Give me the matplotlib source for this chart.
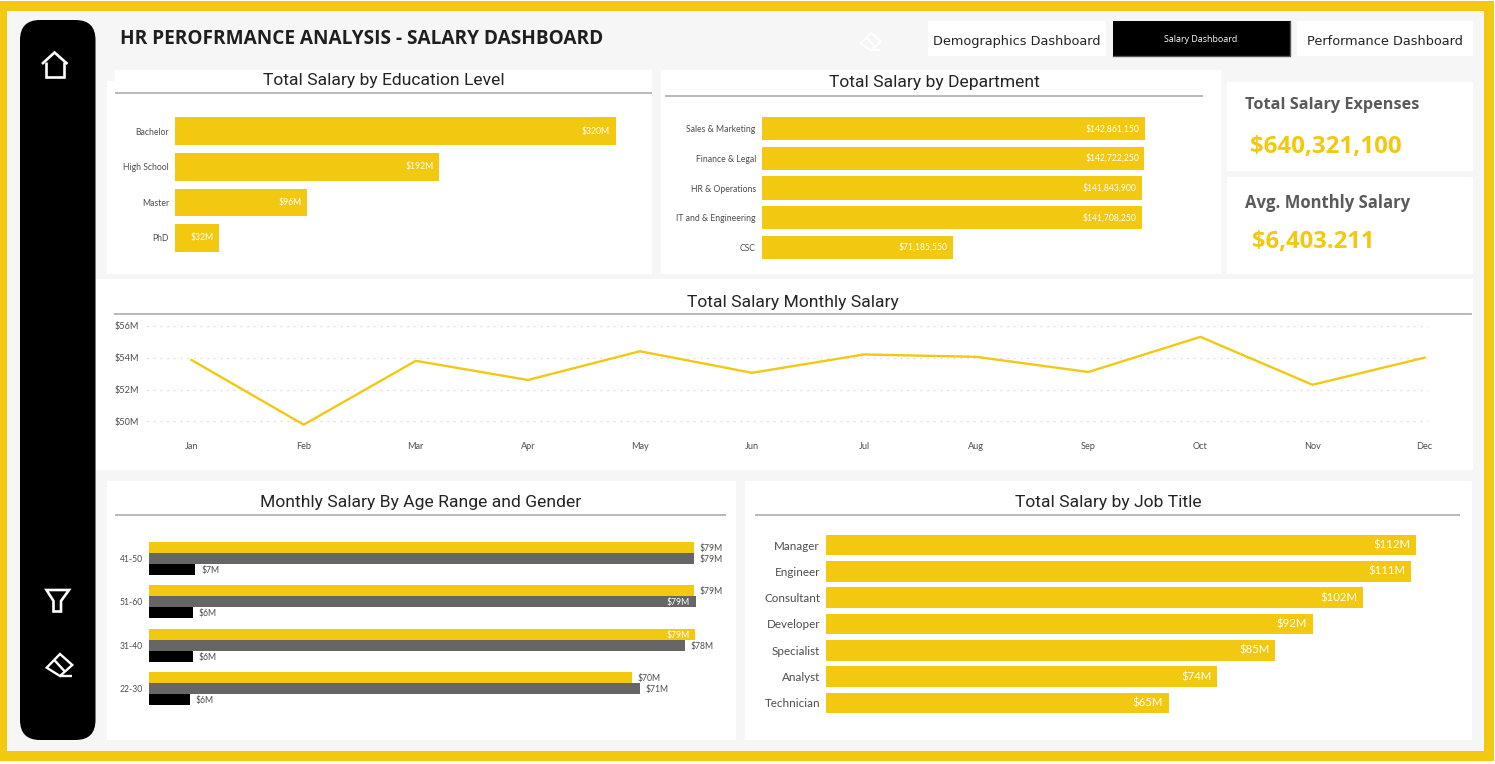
import matplotlib
matplotlib.use("Agg")
import matplotlib.pyplot as plt
from matplotlib.patches import Rectangle, FancyBboxPatch, Polygon

W, H = 1495, 764
YELLOW = "#F2C811"
GREY = "#666666"
TXT = "#4F4D4B"
BODY = "Open Sans"
LABEL = "Lato"
HEAD = "Roboto"
SMALL = 6.25

# ---- data ----
edu_levels = ["Bachelor", "High School", "Master", "PhD"]
edu_salary = [320, 192, 96, 32]

departments = ["Sales & Marketing", "Finance & Legal", "HR & Operations", "IT and & Engineering", "CSC"]
dept_salary = [142861150, 142722250, 141843900, 141708250, 71185550]

months = ["Jan", "Feb", "Mar", "Apr", "May", "Jun", "Jul", "Aug", "Sep", "Oct", "Nov", "Dec"]
month_salary = [53.85, 49.8, 53.8, 52.6, 54.4, 53.05, 54.2, 54.05, 53.1, 55.3, 52.3, 54.0]
month_ticks = [50, 52, 54, 56]

age_ranges = ["41-50", "51-60", "31-40", "22-30"]
age_series_a = [79.0, 79.0, 79.2, 70.1]
age_series_b = [79.0, 79.3, 77.7, 71.2]
age_series_c = [6.7, 6.3, 6.4, 5.9]

job_titles = ["Manager", "Engineer", "Consultant", "Developer", "Specialist", "Analyst", "Technician"]
job_salary = [112.0, 111.1, 102.0, 92.4, 85.2, 74.3, 65.0]

main_title = "HR PEROFRMANCE ANALYSIS - SALARY DASHBOARD"
total_expenses = "$640,321,100"
avg_monthly = "$6,403.211"

fig = plt.figure(figsize=(W / 100, H / 100), dpi=100, facecolor="white")
bg = fig.add_axes([0, 0, 1, 1], zorder=0)
bg.set_xlim(0, W)
bg.set_ylim(H, 0)
bg.axis("off")


def box(l, t, r, b, color="white", **kw):
    bg.add_patch(Rectangle((l, t), r - l, b - t, facecolor=color, edgecolor="none", **kw))


def hline(l, r, y):
    bg.plot([l, r], [y, y], color="#A6A6A6", lw=1.1, solid_capstyle="butt")


def title(x, y, s):
    bg.text(x, y + 1, s, family=HEAD, fontsize=12.6, color="#252423", ha="center", va="center")


def ax_px(l, t, r, b):
    ax = fig.add_axes([l / W, 1 - b / H, (r - l) / W, (b - t) / H], zorder=2)
    ax.patch.set_alpha(0)
    for s in ax.spines.values():
        s.set_visible(False)
    return ax


# frame and panels
box(0, 1, 1493.5, 761, YELLOW)
box(7, 11, 1484, 751, "#F6F6F6")
bg.add_patch(FancyBboxPatch((20, 20), 75.5, 720, boxstyle="round,pad=0,rounding_size=20",
                            facecolor="black", edgecolor="none", mutation_aspect=1))
box(107, 81, 652, 274)
box(115, 70, 652, 81)
box(661, 70, 1221, 274)
box(1227, 82, 1473, 171)
box(1227, 177, 1473, 274)
box(96, 278.5, 1473, 470)
box(107, 481, 736, 740)
box(745, 481, 1472, 740)
box(928, 21, 1106, 56)
box(1113, 21, 1290, 56, "black")
box(1297, 21, 1473, 56)
bg.plot([1113, 1290, 1290], [55.5, 55.5, 21], color="#555555", lw=1)

# icons
icon = dict(color="white", lw=1.9, solid_joinstyle="miter", solid_capstyle="butt")
bg.plot([42, 54.5, 67.5], [64, 52.5, 64], **icon)
bg.plot([45.5, 45.5, 64, 64], [62, 76.5, 76.5, 62], **icon)
bg.add_patch(Polygon([(46.5, 590), (69, 590), (61, 601), (61, 611.5), (53.5, 611.5), (53.5, 601)],
                     closed=True, fill=False, edgecolor="white", lw=1.9))
for dx, dy, sc, lw in [(0, 0, 1, 1.7), (811, -623.5, 0.8, 1.4)]:
    pts = [(60, 654), (72.3, 665), (60, 676), (46.7, 667.7)]
    cx, cy = 60, 665
    P = [(cx + (x - cx) * sc + dx, cy + (y - cy) * sc + dy) for x, y in pts]
    bg.add_patch(Polygon(P, closed=True, fill=False, edgecolor="white", lw=lw))
    L1 = [(54.3, 660), (65, 671.7)]
    L2 = [(60, 676), (71.7, 676)]
    for seg in (L1, L2):
        bg.plot([cx + (x - cx) * sc + dx for x, y in seg], [cy + (y - cy) * sc + dy for x, y in seg],
                color="white", lw=lw, solid_capstyle="butt")

# text blocks
bg.text(120, 38.5, main_title, family=BODY, fontsize=13.7, fontweight="bold", color="#1F1F1F", ha="left", va="center")
bg.text(1017, 41.5, "Demographics Dashboard", family="DejaVu Sans", fontsize=9.3, color="#252423", ha="center", va="center")
bg.text(1201, 40, "Salary Dashboard", family=BODY, fontsize=6.4, color="white", ha="center", va="center")
bg.text(1385, 41.5, "Performance Dashboard", family="DejaVu Sans", fontsize=9.3, color="#252423", ha="center", va="center")
bg.text(1245, 105, "Total Salary Expenses", family=BODY, fontsize=11.7, fontweight="bold", color="#5A5A5A", ha="left", va="center")
bg.text(1250, 147, total_expenses, family=BODY, fontsize=17.4, fontweight="bold", color=YELLOW, ha="left", va="center")
bg.text(1245, 203, "Avg. Monthly Salary", family=BODY, fontsize=12, fontweight="bold", color="#5A5A5A", ha="left", va="center")
bg.text(1252, 242, avg_monthly, family=BODY, fontsize=17.2, fontweight="bold", color=YELLOW, ha="left", va="center")

title(384, 80, "Total Salary by Education Level")
title(934, 82, "Total Salary by Department")
title(793, 301, "Total Salary Monthly Salary")
title(421, 501, "Monthly Salary By Age Range and Gender")
title(1108, 501, "Total Salary by Job Title")
hline(115, 652, 93)
hline(665, 1203, 96)
hline(114, 1472, 314)
hline(115, 726, 514.5)
hline(755, 1460, 514.5)


def cat_axis(ax, labels, size):
    ax.set_yticks(range(len(labels)))
    ax.set_yticklabels(labels, family=LABEL, fontsize=size, color=TXT)
    ax.set_ylim(len(labels) - 0.5, -0.5)
    ax.set_xticks([])
    ax.tick_params(axis="y", length=0, pad=4.5)


# education
ax = ax_px(175.3, 113.4, 645, 255.8)
ax.barh(edu_levels, edu_salary, height=0.77, color=YELLOW)
cat_axis(ax, edu_levels, SMALL)
ax.set_xlim(0, 469.7 / 1.376)
for i, v in enumerate(edu_salary):
    ax.annotate(f"${v}M", (v, i), xytext=(-4, 0), textcoords="offset points", ha="right", va="center",
                family=LABEL, fontsize=SMALL, color="white")

# department
ax = ax_px(762, 114, 1200, 262)
ax.barh(departments, dept_salary, height=0.78, color=YELLOW)
cat_axis(ax, departments, SMALL)
ax.set_xlim(0, 438 / 2.68e-6)
for i, v in enumerate(dept_salary):
    ax.annotate(f"${v:,}", (v, i), xytext=(-4, 0), textcoords="offset points", ha="right", va="center",
                family=LABEL, fontsize=SMALL, color="white")

# monthly line
ax = ax_px(147, 318, 1428, 432)
ax.plot(months, month_salary, color=YELLOW, lw=1.7, solid_joinstyle="miter")
ax.set_xlim(-44.6 / 112.1, 11 + 3.4 / 112.1)
ax.set_ylim(50 - (432 - 421.5) / 15.95, 56 + (325.7 - 318) / 15.95)
ax.set_yticks(month_ticks)
ax.set_yticklabels([f"${v}M" for v in month_ticks], family=LABEL, fontsize=SMALL + 0.3, color=TXT)
ax.set_xticks(range(len(months)))
ax.set_xticklabels(months, family=LABEL, fontsize=SMALL + 0.3, color=TXT)
ax.tick_params(length=0)
ax.tick_params(axis="y", pad=6)
ax.tick_params(axis="x", pad=7)
ax.grid(axis="y", color="#C8C8C8", lw=0.8, linestyle=(0, (1, 5)))
ax.set_axisbelow(True)

# age and gender
ax = ax_px(149.3, 537, 720, 710.2)
ypos = list(range(len(age_ranges)))
bh = 0.254
series = [(age_series_a, YELLOW, -bh), (age_series_b, GREY, 0), (age_series_c, "black", bh)]
for vals, col, off in series:
    ys = [y + off for y in ypos]
    ax.barh(ys, vals, height=bh, color=col)
    for y, v in zip(ys, vals):
        inside = v > 79.1
        ax.annotate(f"${v:.0f}M", (v, y), xytext=(-4 if inside else 4, -0.6), textcoords="offset points",
                    ha="right" if inside else "left", va="center", family=LABEL, fontsize=SMALL,
                    color="white" if inside else TXT)
cat_axis(ax, age_ranges, SMALL)
ax.set_xlim(0, 570.7 / 6.89)

# job title
ax = ax_px(826.3, 532, 1450, 716)
ax.barh(job_titles, job_salary, height=0.78, color=YELLOW)
cat_axis(ax, job_titles, 8.4)
ax.set_xlim(0, 623.7 / 5.265)
for i, v in enumerate(job_salary):
    ax.annotate(f"${v:.0f}M", (v, i), xytext=(-4, 0), textcoords="offset points", ha="right", va="center",
                family=LABEL, fontsize=8.2, color="white")

fig.savefig("out.png", dpi=100, facecolor="white")
